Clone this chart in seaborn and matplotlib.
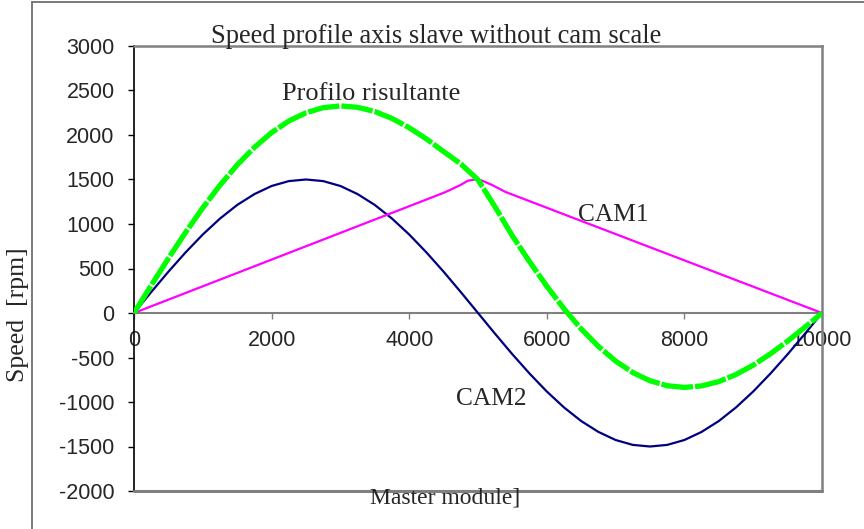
import matplotlib
matplotlib.use("Agg")
import matplotlib.pyplot as plt
from matplotlib.lines import Line2D
import seaborn as sns
import pandas as pd

# Master position samples for the sinusoidal cam and the resulting profile
master = [0, 250, 500, 750, 1000, 1250, 1500, 1750, 2000, 2250, 2500,
          2750, 3000, 3250, 3500, 3750, 4000, 4250, 4500, 4750, 5000,
          5250, 5500, 5750, 6000, 6250, 6500, 6750, 7000, 7250, 7500,
          7750, 8000, 8250, 8500, 8750, 9000, 9250, 9500, 9750, 10000]

cam2_speed = [0, 235, 464, 681, 882, 1061, 1214, 1336, 1427, 1482, 1500,
              1482, 1427, 1336, 1214, 1061, 882, 681, 464, 235, 0,
              -235, -464, -681, -882, -1061, -1214, -1336, -1427, -1482, -1500,
              -1482, -1427, -1336, -1214, -1061, -882, -681, -464, -235, 0]

resultant_speed = [0, 310, 614, 906, 1182, 1436, 1664, 1861, 2027, 2157, 2250,
                   2307, 2327, 2311, 2264, 2186, 2082, 1956, 1814, 1675, 1497,
                   1190, 866, 576, 301, 48, -179, -375, -540, -669, -761,
                   -817, -836, -819, -771, -691, -586, -459, -316, -161, 0]

# Triangular cam with a rounded crest
cam1_master = [0, 4500, 4600, 4750, 4850, 4950, 5050, 5200, 5400, 10000]
cam1_speed = [0, 1350, 1385, 1440, 1485, 1500, 1490, 1440, 1360, 0]

x_ticks = [0, 2000, 4000, 6000, 8000, 10000]
y_ticks = [-2000, -1500, -1000, -500, 0, 500, 1000, 1500, 2000, 2500, 3000]

title = "Speed profile axis slave without cam scale"
y_label = "Speed  [rpm]"
x_label = "Master module]"

sns.set_style("white")
plt.rcParams["font.family"] = ["Liberation Sans", "DejaVu Sans"]
plt.rcParams["axes.unicode_minus"] = False
serif = ["Liberation Serif", "DejaVu Serif"]

W, H = 864, 529
fig = plt.figure(figsize=(W / 100, H / 100), dpi=100)
ax = fig.add_axes([134 / W, 1 - 491 / H, (822 - 134) / W, (491 - 46) / H])

df2 = pd.DataFrame({"master": master, "speed": cam2_speed})
df1 = pd.DataFrame({"master": cam1_master, "speed": cam1_speed})
dfr = pd.DataFrame({"master": master, "speed": resultant_speed})

sns.lineplot(data=df2, x="master", y="speed", ax=ax, color="#000080",
             lw=1.6, sort=False, zorder=3)
sns.lineplot(data=df1, x="master", y="speed", ax=ax, color="#FF00FF",
             lw=1.6, sort=False, zorder=3)
sns.lineplot(data=dfr, x="master", y="speed", ax=ax, color="#00FF00",
             lw=3.8, sort=False, zorder=4, linestyle=(0, (6, 0.4)))

ax.set_xlim(0, 10000)
ax.set_ylim(-2000, 3000)
ax.set_xticks(x_ticks)
ax.set_yticks(y_ticks)
ax.set_xlabel("")
ax.set_ylabel("")

grey = "#808080"
ax.spines["bottom"].set_position(("data", 0))
ax.spines["bottom"].set_color(grey)
ax.spines["bottom"].set_linewidth(1.5)
for side in ("top", "right"):
    ax.spines[side].set_color(grey)
    ax.spines[side].set_linewidth(1.8)
ax.spines["left"].set_color("#000000")
ax.spines["left"].set_linewidth(1.2)
ax.axhline(-2000, color=grey, lw=2.2, clip_on=False, zorder=5)

ax.tick_params(axis="y", direction="out", length=4, width=1, color="black",
               pad=10, labelsize=15.5, left=True)
ax.tick_params(axis="x", direction="out", length=4, width=1, color=grey,
               pad=8, labelsize=15.5, bottom=True)

# Curve names
ax.text(3445, 2393, "Profilo risultante", family=serif, fontsize=19,
        ha="center", va="baseline")
ax.text(6962, 1034, "CAM1", family=serif, fontsize=18.3, ha="center", va="baseline")
ax.text(5189, -1034, "CAM2", family=serif, fontsize=18.3, ha="center", va="baseline")

fig.text(436 / W, 1 - 43 / H, title, family=serif, fontsize=19.1,
         ha="center", va="baseline")
fig.text(445 / W, 1 - 498 / H, x_label, family=serif, fontsize=17,
         ha="center", va="center")
fig.text(18 / W, 1 - 315 / H, y_label, family=serif, fontsize=18.5,
         ha="center", va="center", rotation=90)

# Outer chart-area frame
fig.add_artist(Line2D([32 / W, 32 / W], [0, 1 - 2 / H], color="#707070", lw=1.3,
                      transform=fig.transFigure))
fig.add_artist(Line2D([32 / W, 1], [1 - 2 / H, 1 - 2 / H], color="#707070", lw=1.3,
                      transform=fig.transFigure))

fig.savefig("out.png", dpi=100)
